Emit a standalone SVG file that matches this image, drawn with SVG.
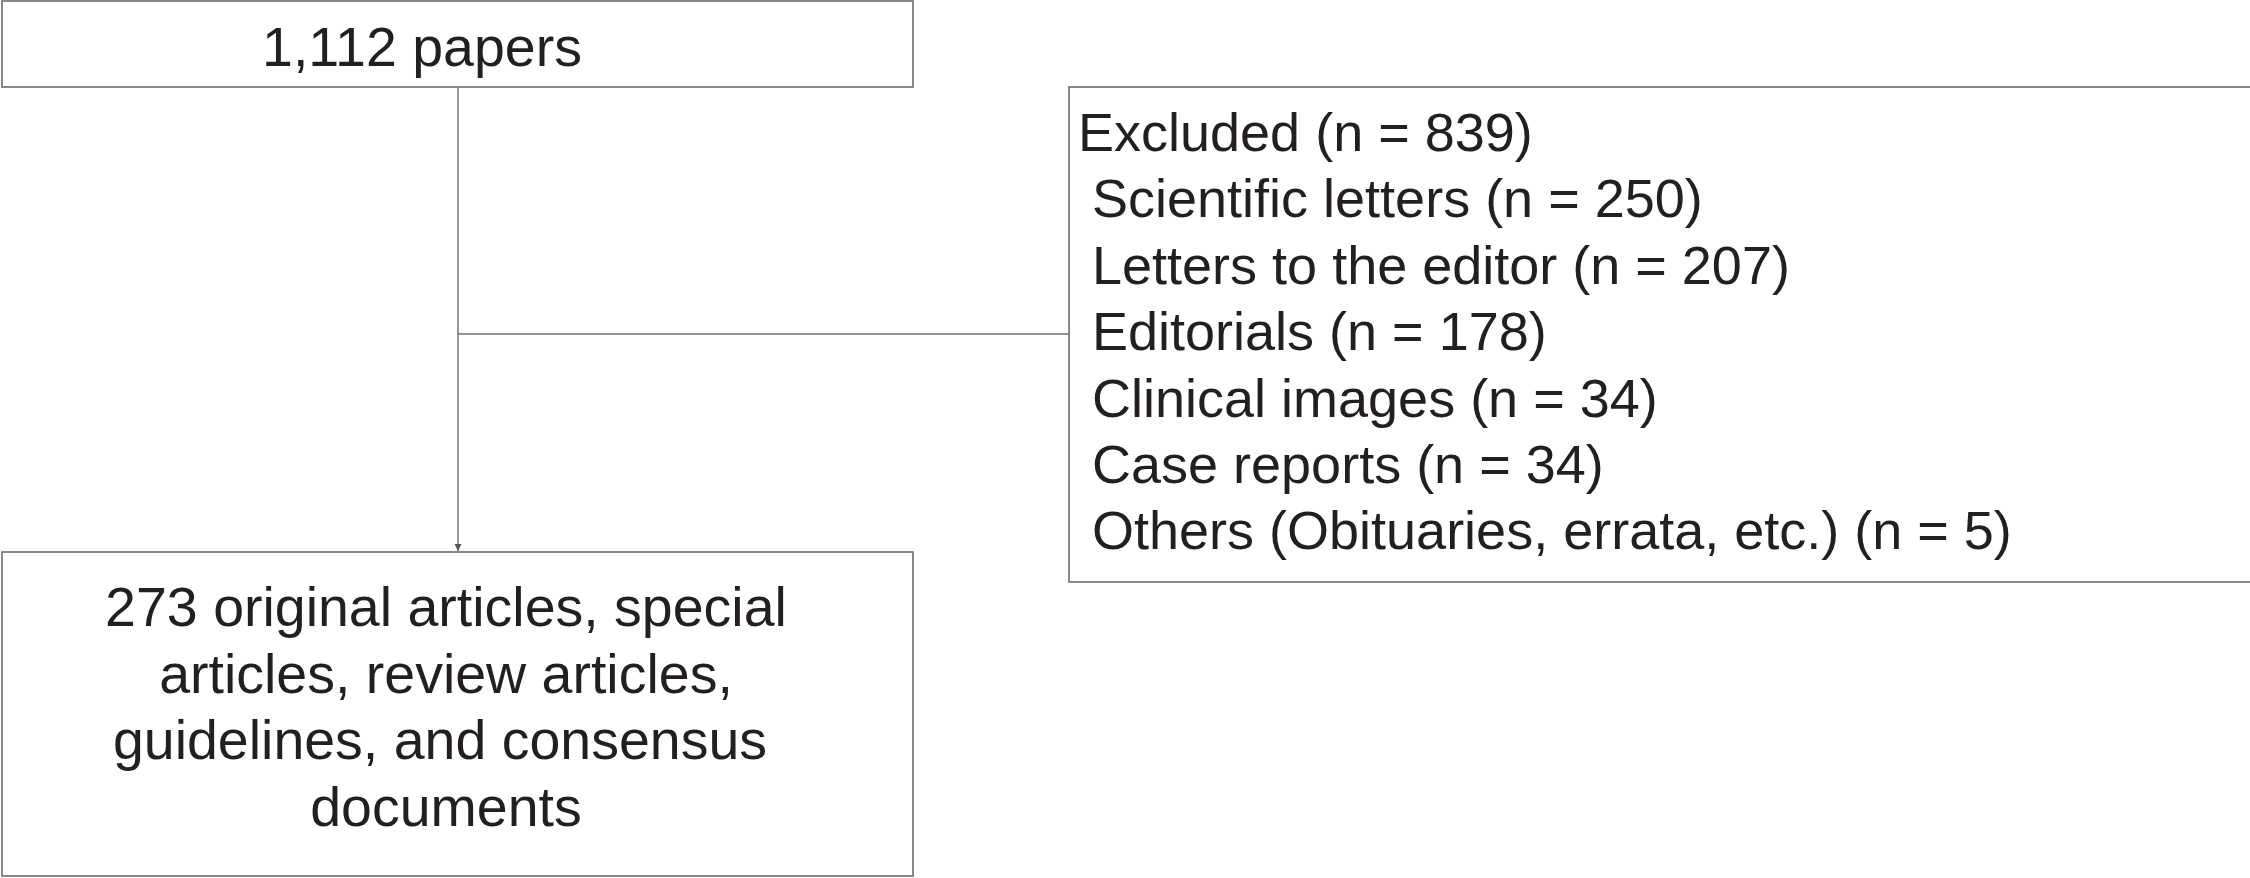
<svg xmlns="http://www.w3.org/2000/svg" width="2250" height="878" viewBox="0 0 2250 878">
  <style>
    .box { fill: #ffffff; stroke: #6d6d6d; stroke-width: 1.6; }
    .line { fill: none; stroke: #6d6d6d; stroke-width: 1.4; }
    .t { font-family: "Liberation Sans", Arial, sans-serif; font-size: 54px; fill: #231f20; }
    .big { font-size: 55.5px; }
    .c { text-anchor: middle; }
  </style>
  <defs>
    <marker id="arr" markerWidth="8" markerHeight="8" refX="7" refY="4" orient="auto" markerUnits="userSpaceOnUse">
      <path d="M0,0.5 L7,4 L0,7.5 Z" fill="#555555"/>
    </marker>
  </defs>
  <rect width="2250" height="878" fill="#ffffff"/>
  <g id="connectors">
    <line class="line" x1="458" y1="88" x2="458" y2="551" marker-end="url(#arr)"/>
    <line class="line" x1="458" y1="334" x2="1069" y2="334"/>
  </g>
  <g id="node-papers">
    <rect class="box" x="2" y="1" width="911" height="86"/>
    <text class="t big c" x="422" y="66">1,112 papers</text>
  </g>
  <g id="node-excluded">
    <rect class="box" x="1069" y="87" width="1190" height="495"/>
    <text class="t" x="1078" y="151">Excluded (n = 839)</text>
    <text class="t" x="1092" y="217">Scientific letters (n = 250)</text>
    <text class="t" x="1092" y="284">Letters to the editor (n = 207)</text>
    <text class="t" x="1092" y="350">Editorials (n = 178)</text>
    <text class="t" x="1092" y="417">Clinical images (n = 34)</text>
    <text class="t" x="1092" y="483">Case reports (n = 34)</text>
    <text class="t" x="1092" y="549">Others (Obituaries, errata, etc.) (n = 5)</text>
  </g>
  <g id="node-included">
    <rect class="box" x="2" y="552" width="911" height="324"/>
    <text class="t big c" x="446" y="626">273 original articles, special</text>
    <text class="t big c" x="446" y="693">articles, review articles,</text>
    <text class="t big c" x="440" y="759">guidelines, and consensus</text>
    <text class="t big c" x="446" y="826">documents</text>
  </g>
</svg>
